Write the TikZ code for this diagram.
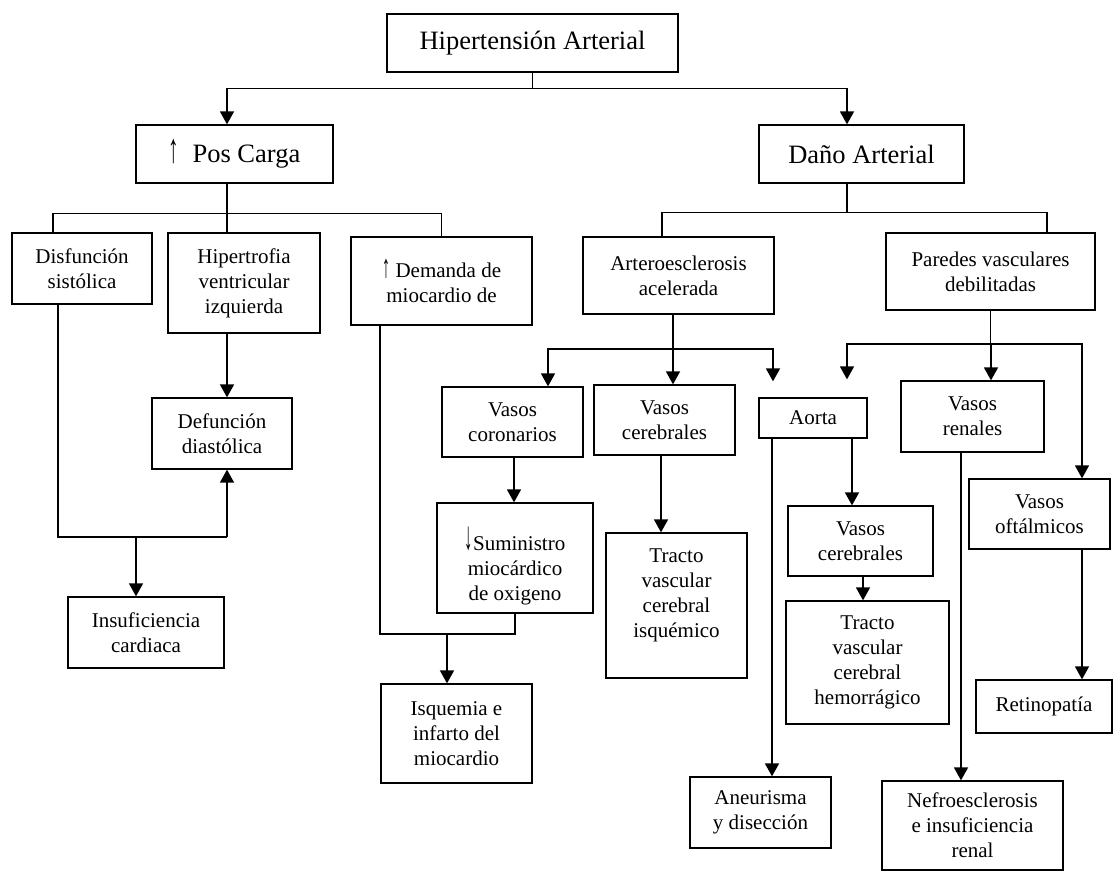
\documentclass[tikz,border=0pt]{standalone}
\usepackage{fontspec}
\setmainfont{Liberation Serif}
\usetikzlibrary{arrows.meta}
\tikzset{
  box/.style={draw, line width=1.3pt, inner sep=0pt},
  txt/.style={align=center, inner sep=0pt, font=\fontsize{21}{25}\selectfont},
  plain/.style={line width=1.2pt},
  thick line/.style={line width=1.7pt},
  arr/.style={line width=1.7pt, -{Triangle[length=13pt,width=14pt]}},
}
\newcommand\bigf{\fontsize{26.5}{30}\selectfont}
\newcommand\tallup{\scalebox{0.8}[1.55]{↑}}
\newcommand\talldown{\raisebox{1pt}{\scalebox{0.8}[1.9]{↓}}}
\newcommand\bx[7][0]{%
  \node[box, minimum width={(#5-#3)*1pt}, minimum height={(#6-#4)*1pt}] (#2) at ({(#3+#5)/2},{(#4+#6)/2}) {};
  \node[txt, yshift=#1] at (#2.center) {#7};}
\begin{document}
\begin{tikzpicture}[x=1pt,y=-1pt]
\useasboundingbox (0,0) rectangle (1114,872);
% boxes
\bx{hta}{387}{14}{678}{72}{\bigf Hipertensión Arterial}
\bx{pos}{136}{125}{333}{183}{\bigf \tallup\ \ Pos Carga}
\bx{dano}{759}{125}{964}{183}{\bigf Daño Arterial}
\bx{dis}{12}{233}{152}{304}{Disfunción\\sistólica}
\bx{hip}{168}{233}{320}{333}{Hipertrofia\\ventricular\\izquierda}
\bx{dem}{351}{237}{532}{325}{\tallup\ Demanda de\\miocardio de}
\bx{def}{152}{398}{292}{469}{Defunción\\diastólica}
\bx{ins}{68}{597}{224}{668}{Insuficiencia\\cardiaca}
\bx{art}{583}{237}{774}{314}{Arteroesclerosis\\acelerada}
\bx{par}{886}{233}{1095}{310}{Paredes vasculares\\debilitadas}
\bx{cor}{442}{387}{583}{457}{Vasos\\coronarios}
\bx{ceb}{594}{385}{735}{455}{Vasos\\cerebrales}
\bx{aor}{759}{398}{867}{438}{Aorta}
\bx{ren}{901}{381}{1044}{452}{Vasos\\renales}
\bx{oft}{969}{479}{1110}{549}{Vasos\\oftálmicos}
\bx[-8]{sum}{437}{503}{593}{613}{\talldown Suministro\\miocárdico\\de oxigeno}
\bx[10]{isc}{606}{533}{747}{678}{Tracto\\vascular\\cerebral\\isquémico}
\bx{ceb2}{788}{506}{933}{576}{Vasos\\cerebrales}
\bx{hem}{786}{601}{949}{724}{Tracto\\vascular\\cerebral\\hemorrágico}
\bx{isq}{381}{684}{532}{783}{Isquemia e\\infarto del\\miocardio}
\bx{ane}{690}{777}{831}{848}{Aneurisma\\y disección}
\bx{nef}{882}{781}{1063}{870}{Nefroesclerosis\\e insuficiencia\\renal}
\bx{ret}{976}{680}{1112}{733}{Retinopatía}
% top
\draw[plain] (hta.south) -- ++(0,16) coordinate (b0);
\draw[arr] (b0) -| ([xshift=-7.5pt]pos.north);
\draw[arr] (b0) -| ([xshift=-14.5pt]dano.north);
% pos carga
\draw[plain] ([xshift=-7.5pt]pos.south) -- ++(0,30) coordinate (b1);
\draw[plain] (b1) -| ([xshift=-29pt]dis.north);
\draw[plain] (b1) -- ([xshift=-17pt]hip.north);
\draw[plain] (b1) -| (dem.north);
\draw[arr] ([xshift=-17pt]hip.south) coordinate (t) -- (t |- def.north);
\draw[thick line] ([xshift=-24pt]dis.south) |- ([xshift=5pt,yshift=-67pt]def.south) coordinate (b2);
\draw[arr] (b2) -- ([xshift=5pt]def.south);
\path ([xshift=-10pt]ins.north) coordinate (t);
\draw[arr] (t |- b2) -- (t);
\draw[thick line] ([xshift=-61.5pt]dem.south) |- ([yshift=-20pt]sum.south) coordinate (b3) -- (sum.south);
\path ([xshift=-9.5pt]isq.north) coordinate (t);
\draw[arr] (t |- b3) -- (t);
% dano arterial
\draw[plain] ([xshift=-14.5pt]dano.south) -- ++(0,29) coordinate (b4);
\draw[plain] (b4) -| ([xshift=-16.5pt]art.north);
\draw[plain] (b4) -| ([xshift=56.5pt]par.north);
\draw[thick line] ([xshift=-5.5pt]art.south) -- ++(0,34) coordinate (b5);
\draw[arr] (b5) -| ([xshift=35.5pt]cor.north);
\draw[arr] (b5) -- ([xshift=8.5pt]ceb.north);
\draw[arr, shorten >=16pt] (b5) -| ([xshift=-40pt]aor.north);
\draw[thick line] (par.south) -- ++(0,33) coordinate (b6);
\draw[arr, shorten >=18pt] (b6) -| ([xshift=34pt]aor.north);
\draw[arr] (b6) -| ([xshift=18.5pt]ren.north);
\draw[arr] (b6) -| ([xshift=42.5pt]oft.north);
% lower
\draw[arr] ([xshift=1.5pt]cor.south) coordinate (t) -- (t |- sum.north);
\draw[arr] ([xshift=-3.5pt]ceb.south) coordinate (t) -- (t |- isc.north);
\draw[arr] ([xshift=-41pt]aor.south) coordinate (t) -- (t |- ane.north);
\draw[arr] ([xshift=39pt]aor.south) coordinate (t) -- (t |- ceb2.north);
\draw[arr] ([xshift=2.5pt]ceb2.south) coordinate (t) -- (t |- hem.north);
\draw[arr] ([xshift=-11.5pt]ren.south) coordinate (t) -- (t |- nef.north);
\draw[arr] ([xshift=42.5pt]oft.south) coordinate (t) -- (t |- ret.north);
\end{tikzpicture}
\end{document}
